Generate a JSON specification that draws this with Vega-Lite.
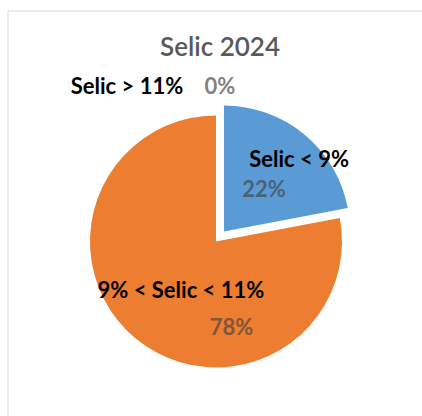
{
  "$schema": "https://vega.github.io/schema/vega-lite/v6.json",
  "width": 416,
  "height": 461,
  "autosize": "none",
  "padding": {"left": 8, "top": 11, "right": 0, "bottom": 0},
  "background": "white",
  "config": {"view": {"stroke": null}},
  "title": {
    "text": "Selic 2024",
    "font": "Lato",
    "fontSize": 26,
    "fontWeight": 600,
    "color": "#595959",
    "anchor": "middle",
    "baseline": "alphabetic",
    "offset": -44,
    "dy": 27,
    "dx": 4
  },
  "data": {
    "values": [
      {"cat": "Selic < 9%", "value": 0.22, "ord": 1},
      {"cat": "9% < Selic < 11%", "value": 0.78, "ord": 2},
      {"cat": "Selic > 11%", "value": 0.0, "ord": 3}
    ]
  },
  "layer": [
    {
      "data": {"values": [{"frame": 1}]},
      "mark": {"type": "rect", "fill": "transparent", "stroke": "#d9d9d9", "strokeWidth": 1},
      "encoding": {}
    },
    {
      "mark": {"type": "arc", "outerRadius": 126},
      "encoding": {
        "theta": {"field": "value", "type": "quantitative", "stack": true},
        "order": {"field": "ord", "type": "quantitative", "sort": "ascending"},
        "color": {"field": "cat", "type": "nominal", "scale": {"domain": ["Selic < 9%", "9% < Selic < 11%", "Selic > 11%"], "range": ["#5B9BD5", "#ED7D31", "#A5A5A5"]}, "legend": null},
        "opacity": {"condition": {"test": "datum.cat === 'Selic < 9%'", "value": 0}, "value": 1}
      }
    },
    {
      "mark": {"type": "arc", "outerRadius": 126, "xOffset": 8, "yOffset": -10},
      "encoding": {
        "theta": {"field": "value", "type": "quantitative", "stack": true},
        "order": {"field": "ord", "type": "quantitative", "sort": "ascending"},
        "color": {"field": "cat", "type": "nominal", "legend": null},
        "opacity": {"condition": {"test": "datum.cat === 'Selic < 9%'", "value": 1}, "value": 0}
      }
    },
    {
      "mark": {"type": "text", "radius": 110, "dx": 13, "dy": 10, "font": "Lato", "fontWeight": "bold", "fontSize": 22, "align": "center", "baseline": "alphabetic", "color": "#000000"},
      "encoding": {
        "theta": {"field": "value", "type": "quantitative", "stack": true},
        "order": {"field": "ord", "type": "quantitative", "sort": "ascending"},
        "text": {"condition": {"test": "datum.cat === 'Selic < 9%'", "field": "cat"}, "value": ""}
      }
    },
    {
      "mark": {"type": "text", "radius": 66, "dx": 6, "dy": 6, "font": "Lato", "fontWeight": "bold", "fontSize": 22, "align": "center", "baseline": "alphabetic", "color": "#404040", "opacity": 0.62},
      "encoding": {
        "theta": {"field": "value", "type": "quantitative", "stack": true},
        "order": {"field": "ord", "type": "quantitative", "sort": "ascending"},
        "text": {"condition": {"test": "datum.cat === 'Selic < 9%'", "field": "value", "format": ".0%"}, "value": ""}
      }
    },
    {
      "mark": {"type": "text", "radius": 66, "dx": 7, "dy": 6, "font": "Lato", "fontWeight": "bold", "fontSize": 22, "align": "center", "baseline": "alphabetic", "color": "#000000"},
      "encoding": {
        "theta": {"field": "value", "type": "quantitative", "stack": true},
        "order": {"field": "ord", "type": "quantitative", "sort": "ascending"},
        "text": {"condition": {"test": "datum.cat === '9% < Selic < 11%'", "field": "cat"}, "value": ""}
      }
    },
    {
      "mark": {"type": "text", "radius": 90, "dx": 73, "dy": 24, "font": "Lato", "fontWeight": "bold", "fontSize": 22, "align": "center", "baseline": "alphabetic", "color": "#404040", "opacity": 0.62},
      "encoding": {
        "theta": {"field": "value", "type": "quantitative", "stack": true},
        "order": {"field": "ord", "type": "quantitative", "sort": "ascending"},
        "text": {"condition": {"test": "datum.cat === '9% < Selic < 11%'", "field": "value", "format": ".0%"}, "value": ""}
      }
    },
    {
      "mark": {"type": "text", "radius": 148, "dx": -89, "dy": 0, "font": "Lato", "fontWeight": "bold", "fontSize": 22, "align": "center", "baseline": "alphabetic", "color": "#000000"},
      "encoding": {
        "theta": {"field": "value", "type": "quantitative", "stack": true},
        "order": {"field": "ord", "type": "quantitative", "sort": "ascending"},
        "text": {"condition": {"test": "datum.cat === 'Selic > 11%'", "field": "cat"}, "value": ""}
      }
    },
    {
      "mark": {"type": "text", "radius": 148, "dx": 4, "dy": 0, "font": "Lato", "fontWeight": "bold", "fontSize": 22, "align": "center", "baseline": "alphabetic", "color": "#404040", "opacity": 0.65},
      "encoding": {
        "theta": {"field": "value", "type": "quantitative", "stack": true},
        "order": {"field": "ord", "type": "quantitative", "sort": "ascending"},
        "text": {"condition": {"test": "datum.cat === 'Selic > 11%'", "field": "value", "format": ".0%"}, "value": ""}
      }
    }
  ]
}
